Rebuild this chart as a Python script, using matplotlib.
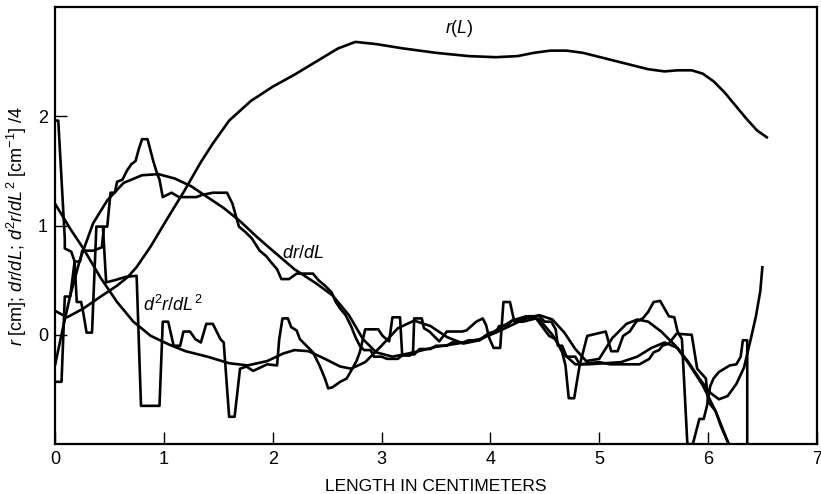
import matplotlib
matplotlib.use("Agg")
import matplotlib.pyplot as plt

plt.rcParams['font.family'] = ['Liberation Sans', 'DejaVu Sans']
plt.rcParams['mathtext.fontset'] = 'custom'
plt.rcParams['mathtext.rm'] = 'Liberation Sans'
plt.rcParams['mathtext.it'] = 'Liberation Sans:italic'

# r(L), smooth
r_x = [0.0, 0.11, 0.26, 0.42, 0.57, 0.67, 0.75, 0.88, 1.03, 1.19, 1.34, 1.45, 1.6, 1.8,
       2.0, 2.2, 2.4, 2.6, 2.76, 2.95, 3.2, 3.5, 3.8, 4.05, 4.25, 4.4, 4.55, 4.7, 4.85,
       5.05, 5.25, 5.45, 5.6, 5.72, 5.85, 5.95, 6.05, 6.15, 6.25, 6.35, 6.45, 6.55]
r_y = [0.22, 0.16, 0.24, 0.35, 0.45, 0.53, 0.62, 0.81, 1.06, 1.32, 1.58, 1.75, 1.96, 2.14,
       2.27, 2.38, 2.5, 2.62, 2.68, 2.66, 2.62, 2.58, 2.55, 2.54, 2.55, 2.58, 2.6, 2.6, 2.58,
       2.53, 2.48, 2.43, 2.41, 2.42, 2.42, 2.39, 2.32, 2.22, 2.1, 1.98, 1.87, 1.8]

# dr/dL, smooth fit
drs_x = [0.0, 0.07, 0.14, 0.23, 0.35, 0.48, 0.63, 0.8, 0.95, 1.1, 1.25, 1.4, 1.55, 1.7,
         1.85, 2.0, 2.2, 2.4, 2.55, 2.7, 2.83, 2.95, 3.1, 3.3, 3.5, 3.7, 3.9, 4.05, 4.2,
         4.32, 4.45, 4.57, 4.68, 4.78, 4.88, 5.0, 5.12, 5.25, 5.35, 5.45, 5.57, 5.7, 5.82,
         5.95, 6.07, 6.19]
drs_y = [-0.28, 0.05, 0.36, 0.69, 1.02, 1.23, 1.39, 1.46, 1.47, 1.43, 1.36, 1.26, 1.16, 1.04,
         0.9, 0.77, 0.6, 0.47, 0.36, 0.18, -0.04, -0.16, -0.2, -0.16, -0.11, -0.08, -0.04, 0.02,
         0.09, 0.15, 0.18, 0.14, 0.02, -0.13, -0.24, -0.22, -0.03, 0.1, 0.14, 0.12, 0.03, -0.1,
         -0.26, -0.46, -0.7, -1.0]

# d2r/dL2 / 4, smooth fit
d2s_x = [0.0, 0.14, 0.26, 0.42, 0.57, 0.72, 0.88, 1.05, 1.2, 1.4, 1.6, 1.77, 1.95, 2.1, 2.2,
         2.33, 2.48, 2.62, 2.72, 2.85, 3.0, 3.15, 3.3, 3.45, 3.6, 3.75, 3.9, 4.05, 4.2, 4.33,
         4.45, 4.57, 4.68, 4.78, 4.9, 5.05, 5.2, 5.35, 5.48, 5.6, 5.72, 5.82, 5.92, 6.02, 6.1,
         6.18, 6.26, 6.33, 6.39, 6.44, 6.48, 6.5]
d2s_y = [1.2, 0.97, 0.79, 0.52, 0.3, 0.12, -0.01, -0.09, -0.15, -0.2, -0.26, -0.28, -0.24,
         -0.17, -0.14, -0.15, -0.22, -0.29, -0.31, -0.25, -0.1, 0.06, 0.13, 0.08, -0.02, -0.08,
         -0.05, 0.04, 0.13, 0.17, 0.14, 0.0, -0.18, -0.27, -0.27, -0.26, -0.25, -0.2, -0.12,
         -0.07, -0.12, -0.25, -0.4, -0.53, -0.59, -0.56, -0.45, -0.3, -0.05, 0.17, 0.4, 0.63]

# dr/dL, step values
drj_x = [0.0, 0.06, 0.09, 0.14, 0.18, 0.23, 0.25, 0.35, 0.43, 0.45, 0.48, 0.51, 0.55, 0.57,
         0.62, 0.66, 0.7, 0.74, 0.77, 0.8, 0.85, 0.9, 0.93, 0.96, 0.99, 1.07, 1.14, 1.3, 1.35,
         1.45, 1.58, 1.63, 1.69, 1.75, 1.81, 1.88, 1.94, 1.98, 2.04, 2.08, 2.15, 2.22, 2.37,
         2.42, 2.48, 2.54, 2.58, 2.62, 2.67, 2.72, 2.76, 2.8, 2.84, 2.9, 2.93, 3.0, 3.05, 3.15,
         3.2, 3.3, 3.35, 3.45, 3.5, 3.6, 3.65, 3.75, 3.8, 3.9, 3.95, 4.0, 4.05, 4.08, 4.15,
         4.2, 4.3, 4.35, 4.45, 4.5, 4.56, 4.6, 4.62, 4.66, 4.7, 4.78, 4.82, 4.9, 5.0, 5.1,
         5.2, 5.37, 5.46, 5.5, 5.55, 5.58, 5.64, 5.71, 5.85, 5.9, 5.98, 6.0, 6.07, 6.12, 6.19]
drj_y = [-0.43, -0.43, 0.35, 0.35, 0.67, 0.67, 0.77, 0.77, 0.8, 0.99, 0.99, 1.3, 1.3, 1.4,
         1.42, 1.5, 1.56, 1.59, 1.7, 1.79, 1.79, 1.6, 1.5, 1.42, 1.26, 1.3, 1.26, 1.26, 1.28,
         1.3, 1.3, 1.2, 0.99, 0.94, 0.88, 0.77, 0.72, 0.67, 0.6, 0.51, 0.51, 0.56, 0.56,
         0.5, 0.45, 0.39, 0.3, 0.24, 0.18, 0.08, -0.02, -0.1, -0.14, -0.14, -0.2, -0.2, -0.22,
         -0.22, -0.18, -0.18, -0.13, -0.13, -0.1, -0.1, -0.07, -0.07, -0.05, -0.05, -0.01,
         0.02, 0.02, 0.08, 0.08, 0.13, 0.13, 0.17, 0.17, 0.12, 0.12, 0.05, -0.1, -0.1, -0.2,
         -0.2, -0.27, -0.26, -0.25, -0.27, -0.27, -0.27, -0.22, -0.16, -0.14, -0.1, -0.08,
         0.01, 0.0, -0.31, -0.4, -0.61, -0.7, -0.84, -1.0]

# d2r/dL2 / 4, point values
d2j_x = [0.0, 0.03, 0.09, 0.09, 0.15, 0.18, 0.2, 0.24, 0.26, 0.29, 0.34, 0.38, 0.44, 0.47,
         0.55, 0.65, 0.75, 0.79, 0.96, 0.99, 1.04, 1.09, 1.15, 1.18, 1.24, 1.29, 1.34, 1.39,
         1.45, 1.52, 1.55, 1.6, 1.65, 1.7, 1.76, 1.82, 1.95, 2.04, 2.06, 2.09, 2.14, 2.17,
         2.22, 2.25, 2.31, 2.37, 2.43, 2.48, 2.51, 2.55, 2.62, 2.68, 2.72, 2.77, 2.8, 2.85,
         2.89, 2.97, 3.01, 3.07, 3.1, 3.17, 3.19, 3.26, 3.29, 3.3, 3.37, 3.39, 3.44, 3.53,
         3.6, 3.74, 3.78, 3.87, 3.93, 3.96, 3.99, 4.03, 4.09, 4.12, 4.18, 4.22, 4.3, 4.42,
         4.48, 4.54, 4.6, 4.66, 4.69, 4.72, 4.77, 4.8, 4.82, 4.89, 5.06, 5.11, 5.17, 5.22,
         5.28, 5.34, 5.4, 5.45, 5.5, 5.56, 5.6, 5.64, 5.69, 5.72, 5.76, 5.81, 5.86,
         5.92, 5.96, 5.99, 6.02, 6.05, 6.1, 6.15, 6.2, 6.26, 6.3, 6.32, 6.36, 6.36]
d2j_y = [1.96, 1.96, 0.88, 0.79, 0.76, 0.67, 0.3, 0.3, 0.2, 0.02, 0.02, 0.99, 0.99, 0.48,
         0.5, 0.53, 0.54, -0.65, -0.65, 0.12, 0.12, -0.1, -0.1, 0.03, 0.03, -0.04, -0.07, 0.1,
         0.1, -0.04, -0.07, -0.75, -0.75, -0.31, -0.29, -0.33, -0.27, -0.28, -0.04, 0.15, 0.15,
         0.07, 0.04, -0.04, -0.1, -0.16, -0.28, -0.4, -0.49, -0.48, -0.43, -0.4, -0.33, -0.24,
         -0.16, 0.05, 0.05, 0.05, -0.01, -0.06, 0.16, 0.16, -0.19, -0.19, -0.15, 0.15, 0.15,
         0.06, 0.03, -0.06, 0.03, 0.03, 0.04, 0.12, 0.15, 0.09, -0.03, -0.12, -0.12, 0.3, 0.3,
         0.12, 0.12, 0.15, 0.07, -0.01, -0.04, -0.16, -0.28, -0.58, -0.58, -0.4, -0.28, -0.01,
         0.03, -0.15, -0.15, -0.01, 0.03, 0.12, 0.15, 0.21, 0.3, 0.31, 0.24, 0.17, 0.16, 0.03,
         -0.04, -1.0, -1.0, -0.77, -0.77, -0.65, -0.47, -0.4, -0.34, -0.31, -0.28, -0.27,
         -0.2, -0.05, -0.05, -1.0]

x_ticks = [0, 1, 2, 3, 4, 5, 6, 7]
y_ticks = [0, 1, 2]

fig = plt.figure(figsize=(8.21, 4.94), dpi=100)
ax = fig.add_axes([0.067, 0.101, 0.928, 0.885])

lw = 1.9
for xs, ys in [(r_x, r_y), (drs_x, drs_y), (d2s_x, d2s_y), (drj_x, drj_y), (d2j_x, d2j_y)]:
    ax.plot(xs, ys, color='black', linewidth=lw, solid_joinstyle='round',
            solid_capstyle='butt')

ax.set_xlim(0, 7)
ax.set_ylim(-1, 3)
ax.set_xticks(x_ticks)
ax.set_yticks(y_ticks)
ax.tick_params(direction='in', length=8.5, width=1.0, labelsize=13, pad=5)
for s in ax.spines.values():
    s.set_linewidth(1.6)

ax.text(3.72, 2.8, r'$r(L)$', fontsize=13, ha='center', va='center')
ax.text(2.28, 0.74, r'$dr/dL$', fontsize=13, ha='center', va='center')
ax.text(1.08, 0.27, r'$d^2r/dL^2$', fontsize=13, ha='center', va='center')

ax.set_xlabel('LENGTH IN CENTIMETERS', fontsize=12.5, labelpad=8)
ax.set_ylabel(r'$r$ [cm]; $dr/dL$; $d^2r/dL^2$ [cm$^{-1}$] /4', fontsize=13)
ax.yaxis.set_label_coords(-0.034, 0.5)

fig.savefig('out.png', dpi=100)
